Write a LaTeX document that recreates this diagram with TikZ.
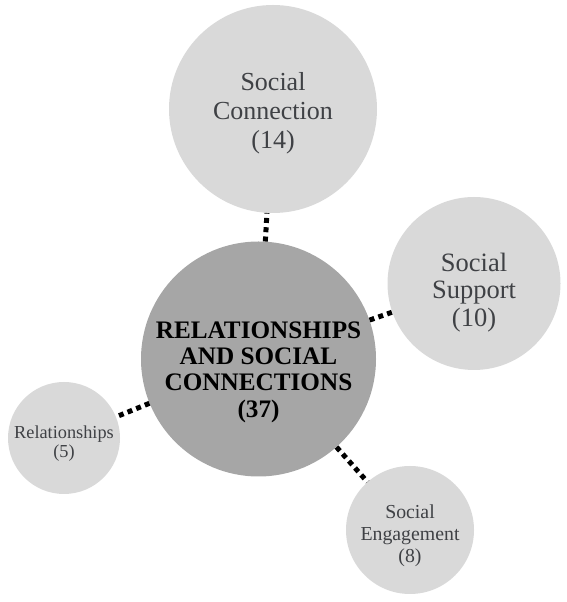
\documentclass[tikz,border=0pt]{standalone}
\usepackage{fontspec}
\setmainfont{Liberation Serif}
\usetikzlibrary{positioning}

\definecolor{hubgray}{HTML}{A6A6A6}
\definecolor{leafgray}{HTML}{D9D9D9}
\definecolor{labelgray}{HTML}{3F4145}

\begin{document}
\begin{tikzpicture}[x=1pt,y=1pt,
                    hub/.style={circle,fill=hubgray,inner sep=0pt,minimum size=235pt},
                    hubtext/.style={align=center,inner sep=0pt,
                      font=\fontsize{25.2}{26.3}\selectfont\bfseries},
                    leaf/.style={circle,fill=leafgray,inner sep=0pt},
                    leaftext/.style={align=center,inner sep=0pt,text=labelgray},
                    link/.style={line width=5pt,dash pattern=on 5pt off 4.3pt}]

  \useasboundingbox (0,0) rectangle (567,602);

  \node[hub]                      (core) at (258.5,243) {};
  \node[leaf,minimum size=208pt]  (conn) at (273,493)   {};
  \node[leaf,minimum size=173pt]  (supp) at (474,318.5) {};
  \node[leaf,minimum size=112pt]  (rels) at (64,164)    {};
  \node[leaf,minimum size=128pt]  (enga) at (410,72)    {};

  \node[hubtext] (coretext) at ([yshift=-13pt]core.center) {RELATIONSHIPS\\AND SOCIAL\\CONNECTIONS\\(37)};
  \node[leaftext,font=\fontsize{26}{29}\selectfont]     (conntext) at ([yshift=-4pt]conn.center) {Social\\Connection\\(14)};
  \node[leaftext,font=\fontsize{26.5}{27.7}\selectfont] (supptext) at ([yshift=-9pt]supp.center) {Social\\Support\\(10)};
  \node[leaftext,font=\fontsize{18.3}{19}\selectfont]   (relstext) at ([yshift=-6pt]rels.center) {Relationships\\(5)};
  \node[leaftext,font=\fontsize{19.8}{22}\selectfont]   (engatext) at ([yshift=-6pt]enga.center) {Social\\Engagement\\(8)};

  \path (core) edge[link] (conn)
               edge[link] (supp)
               edge[link] (rels)
               edge[link] (enga);
\end{tikzpicture}
\end{document}
